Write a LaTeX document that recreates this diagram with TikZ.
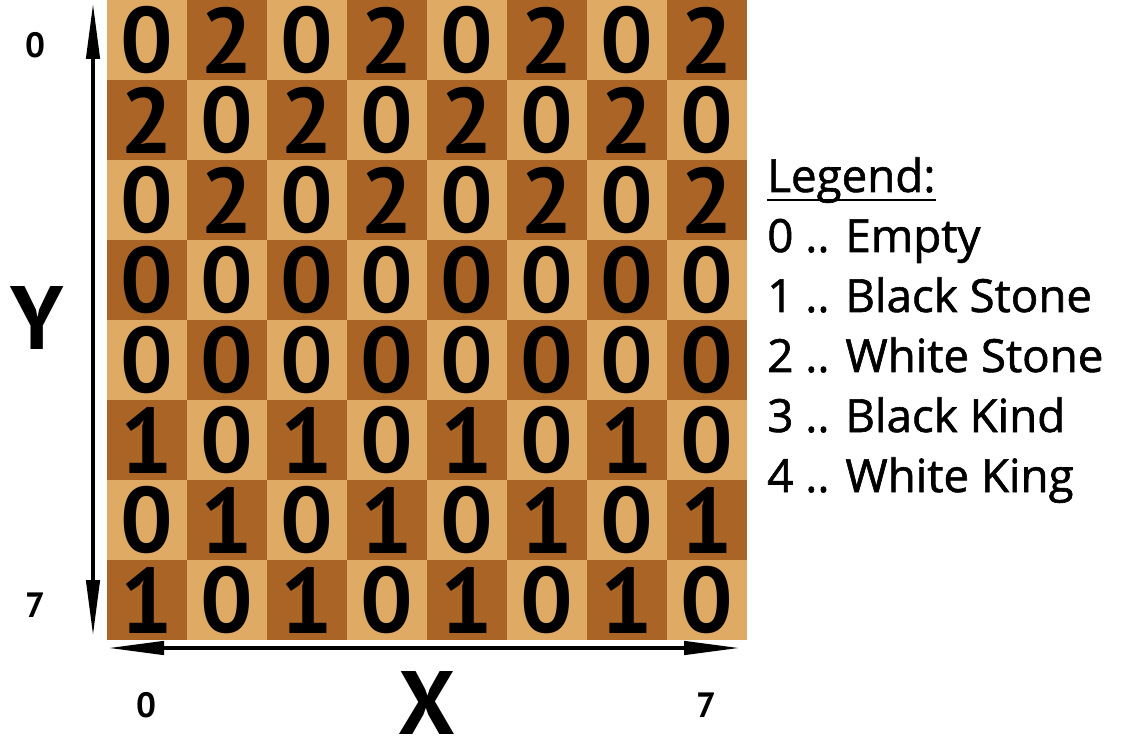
\documentclass[tikz,border=0pt]{standalone}
\usepackage{fontspec}
\setmainfont{PT Sans}
\newfontfamily\legendfont{Open Sans}
\usetikzlibrary{arrows.meta}
\definecolor{lightwood}{RGB}{222,170,100}
\definecolor{darkwood}{RGB}{170,100,38}

\begin{document}
\begin{tikzpicture}[x=2cm, y=2cm,
    digit/.style={font=\fontsize{66}{66}\selectfont\bfseries, inner sep=0pt},
    axisnum/.style={font=\fontsize{25}{25}\selectfont\bfseries},
    axisname/.style={font=\fontsize{64}{64}\selectfont\bfseries},
    legend/.style={font=\legendfont\fontsize{32.5}{32.5}\selectfont\addfontfeatures{FakeBold=1.3}, anchor=base west, inner sep=0pt},
    axis/.style={line width=2.8pt, {Triangle[length=1.4cm,width=0.33cm]}-{Triangle[length=1.4cm,width=0.33cm]}}]
        \useasboundingbox (0,0) rectangle (14.15,9.35);

        % Board
        \foreach \row [count=\r from 0] in {{0,2,0,2,0,2,0,2},{2,0,2,0,2,0,2,0},{0,2,0,2,0,2,0,2},{0,0,0,0,0,0,0,0},{0,0,0,0,0,0,0,0},{1,0,1,0,1,0,1,0},{0,1,0,1,0,1,0,1},{1,0,1,0,1,0,1,0}} {
            \foreach \v [count=\c from 0] in \row {
                \pgfmathtruncatemacro{\odd}{mod(\r+\c,2)}
                \ifnum\odd=0 \def\wood{lightwood}\else\def\wood{darkwood}\fi
                \fill[\wood] (1.3375+\c, 8.35-\r) rectangle ++(1,1);
                \node[digit] (cell\r\c) at (1.8375+\c, 8.85-\r) {\v};
            }
        }

        % Axes
        \coordinate (ytop) at (1.1625, 9.3125);
        \coordinate (ybot) at (1.1625, 1.4);
        \coordinate (xleft) at (1.35, 1.25);
        \coordinate (xright) at (9.25, 1.25);
        \draw[axis] (ybot) -- (ytop);
        \draw[axis] (xleft) -- (xright);

        % Labels
        \node[axisnum] (y0) at (0.4375, 8.79) {0};
        \node[axisnum] (y7) at (0.4375, 1.79) {7};
        \node[axisname] (ylab) at (0.4625, 5.375) {Y};
        \node[axisnum] (x0) at (1.825, 0.5375) {0};
        \node[axisnum] (x7) at (8.825, 0.5375) {7};
        \node[axisname] (xlab) at (5.3375, 0.56) {X};

        % Legend
        \node[legend] (title) at (9.5875, 6.95) {Legend:};
        \draw[line width=2pt] ([yshift=-0.2cm]title.base west) -- ([yshift=-0.2cm]title.base east);
        \foreach \k/\txt [count=\i from 1] in {0/Empty, 1/Black Stone, 2/White Stone, 3/Black Kind, 4/White King}
            \node[legend] (entry\k) at (9.5875, 6.95-0.75*\i) {\k{} .. \txt};
    \end{tikzpicture}
\end{document}
